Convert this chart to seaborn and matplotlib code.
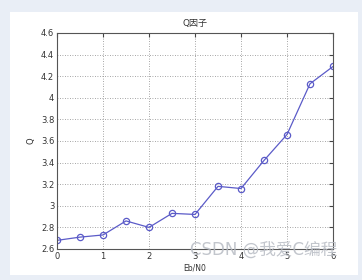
import matplotlib
matplotlib.use("Agg")
import matplotlib.pyplot as plt
from matplotlib.patches import Rectangle
import seaborn as sns
import pandas as pd

ebn0 = [0, 0.5, 1, 1.5, 2, 2.5, 3, 3.5, 4, 4.5, 5, 5.5, 6]
q_values = [2.68, 2.71, 2.73, 2.86, 2.80, 2.93, 2.92, 3.18, 3.16, 3.42, 3.66, 4.13, 4.29]
x_ticks = [0, 1, 2, 3, 4, 5, 6]
y_ticks = [2.6, 2.8, 3.0, 3.2, 3.4, 3.6, 3.8, 4.0, 4.2, 4.4, 4.6]
y_tick_labels = ["2.6", "2.8", "3", "3.2", "3.4", "3.6", "3.8", "4", "4.2", "4.4", "4.6"]

sns.set_style("white")
plt.rcParams['font.family'] = ['DejaVu Sans', 'Noto Sans CJK SC']

df = pd.DataFrame({"Eb/N0": ebn0, "Q": q_values})

fig = plt.figure(figsize=(3.62, 2.80), dpi=100, facecolor="#e9eef6")
fig.patches.append(Rectangle((10/362, 5/280), 348/362, 263/280, transform=fig.transFigure,
                             facecolor="white", edgecolor="none", zorder=-5))
ax = fig.add_axes([57/362, 31/280, 276/362, 216/280])
ax.set_facecolor("white")

sns.lineplot(data=df, x="Eb/N0", y="Q", ax=ax, color="#5b5bc8", linewidth=0.9,
             marker="o", markersize=4.5, markerfacecolor="none",
             markeredgecolor="#5b5bc8", markeredgewidth=0.9)

ax.set_xlim(0, 6)
ax.set_ylim(2.6, 4.6)
ax.set_xticks(x_ticks)
ax.set_yticks(y_ticks)
ax.set_yticklabels(y_tick_labels)
ax.grid(True, linestyle=(0, (1, 2)), color="#888888", linewidth=0.6)
ax.tick_params(direction="in", length=3, labelsize=6, color="#444444", labelcolor="#333333",
               top=True, right=True, pad=2)
for s in ax.spines.values():
    s.set_visible(True)
    s.set_color("#555555")
    s.set_linewidth(0.8)

ax.set_title("Q因子", fontsize=6.5, color="#333333", pad=5,
             family=['DejaVu Sans', 'Noto Sans CJK SC'])
ax.set_xlabel("Eb/N0", fontsize=5.5, color="#333333", labelpad=2)
ax.set_ylabel("Q", fontsize=6, color="#333333", labelpad=4)

fig.text(190/362, 1 - 250/280, "CSDN @我爱C编程", fontsize=12, color="#b8bcc4", alpha=0.85,
         va="center", ha="left", family=['DejaVu Sans', 'Noto Sans CJK SC'])

fig.savefig("out.png", dpi=100, facecolor=fig.get_facecolor())
